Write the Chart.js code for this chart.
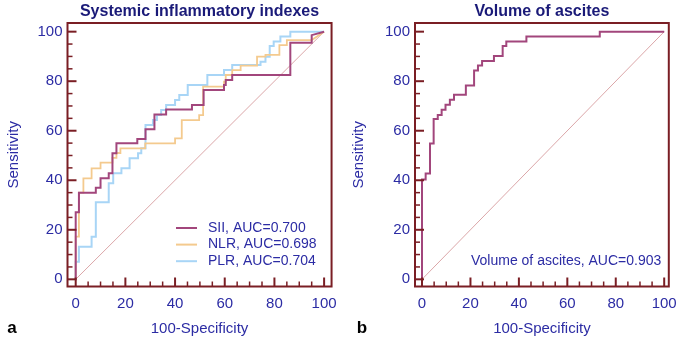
<!DOCTYPE html>
<html>
<head>
<meta charset="utf-8">
<script src="https://cdn.jsdelivr.net/npm/chart.js@4.4.0/dist/chart.umd.min.js"></script>
<style>
  html, body { margin: 0; padding: 0; background: #fff; }
  #wrap { position: relative; width: 685px; height: 338px; }
  canvas { position: absolute; top: 0; }
  #rocA { left: 0; }
  #rocB { left: 345px; }
</style>
</head>
<body>
<div id="wrap">
  <canvas id="rocA" width="345" height="338"></canvas>
  <canvas id="rocB" width="340" height="338"></canvas>
</div>
<script>
// tick labels, both axes, both panels
const axisTicks = [0, 20, 40, 60, 80, 100];

// panel a - SII
const siiX = [0, 0, 1.3, 1.3, 8.1, 8.1, 10, 10, 13.3, 13.3, 14.8, 14.8, 16.4, 16.4, 24.8, 24.8, 28.1, 28.1, 31.7, 31.7, 36.4, 36.4, 46.8, 46.8, 51.5, 51.5, 59.7, 59.7, 60.4, 60.4, 63, 63, 86.4, 86.4, 95, 95, 100];
const siiY = [0, 27.1, 27.1, 35, 35, 37, 37, 40.8, 40.8, 42.8, 42.8, 50.9, 50.9, 54.9, 54.9, 56.7, 56.7, 60.6, 60.6, 66.6, 66.6, 68.6, 68.6, 70.4, 70.4, 76.4, 76.4, 78.5, 78.5, 80.5, 80.5, 82.5, 82.5, 95.5, 95.5, 98.6, 100];

// panel a - NLR
const nlrX = [0, 0, 1.3, 1.3, 3.1, 3.1, 6.4, 6.4, 10, 10, 14.8, 14.8, 16.4, 16.4, 18, 18, 28, 28, 40, 40, 42.7, 42.7, 49.7, 49.7, 51.3, 51.3, 59.7, 59.7, 60.4, 60.4, 63, 63, 66.4, 66.4, 73, 73, 76.4, 76.4, 82, 82, 85, 85, 95, 100];
const nlrY = [0, 17.2, 17.2, 35, 35, 40.8, 40.8, 44.8, 44.8, 47.1, 47.1, 49, 49, 51, 51, 52.9, 52.9, 54.9, 54.9, 56.9, 56.9, 64.3, 64.3, 66.3, 66.3, 77.8, 77.8, 79.8, 79.8, 82.5, 82.5, 84.5, 84.5, 86.3, 86.3, 89.9, 89.9, 90.6, 90.6, 94.6, 94.6, 96.6, 96.6, 100];

// panel a - PLR
const plrX = [0, 0, 1.3, 1.3, 6.4, 6.4, 8.1, 8.1, 13.3, 13.3, 15.1, 15.1, 18.4, 18.4, 21.7, 21.7, 25.1, 25.1, 26.4, 26.4, 28.1, 28.1, 31.1, 31.1, 32.7, 32.7, 34.4, 34.4, 36.4, 36.4, 40, 40, 41.7, 41.7, 45.1, 45.1, 53, 53, 59.7, 59.7, 63, 63, 74.4, 74.4, 76.4, 76.4, 78.1, 78.1, 79.7, 79.7, 82.4, 82.4, 86.4, 86.4, 100];
const plrY = [0, 7.1, 7.1, 13.2, 13.2, 17.2, 17.2, 31.1, 31.1, 38.8, 38.8, 42.8, 42.8, 44.8, 44.8, 48.9, 48.9, 50.9, 50.9, 52.9, 52.9, 62.3, 62.3, 64.3, 64.3, 66.4, 66.4, 68.4, 68.4, 70.4, 70.4, 72.4, 72.4, 74.4, 74.4, 78.5, 78.5, 82.5, 82.5, 84.5, 84.5, 86.5, 86.5, 87.9, 87.9, 89.9, 89.9, 94.2, 94.2, 96, 96, 98, 98, 100, 100];

// panel b - volume of ascites
const ascX = [0, 0, 1.5, 1.5, 3.3, 3.3, 4.8, 4.8, 6.5, 6.5, 8.1, 8.1, 9.7, 9.7, 11.5, 11.5, 13.2, 13.2, 18.1, 18.1, 21.5, 21.5, 23.1, 23.1, 24.8, 24.8, 29.7, 29.7, 33.3, 33.3, 34.8, 34.8, 43.1, 43.1, 73.4, 73.4, 100];
const ascY = [0, 40.3, 40.3, 42.7, 42.7, 54.8, 54.8, 64.7, 64.7, 66.4, 66.4, 68.5, 68.5, 70.5, 70.5, 72.5, 72.5, 74.5, 74.5, 78.3, 78.3, 84.3, 84.3, 86.3, 86.3, 88.2, 88.2, 90.2, 90.2, 94.2, 94.2, 96, 96, 98, 98, 100, 100];

// chance line
const diagX = [0, 100];
const diagY = [0, 100];

const FONT = "'Liberation Sans', Arial, sans-serif";
const FRAME = '#7a1e24';
const BLUE = '#2c2ca4';
const NAVY = '#1a1a78';

const pts = (xs, ys) => xs.map((v, i) => ({ x: v, y: ys[i] }));

// frame + inward tick marks (major every 20, minor every 5)
const framePlugin = {
    id: 'frame',
    afterDatasetsDraw(chart) {
        const { ctx, chartArea: a, scales: { x, y } } = chart;
        ctx.save();
        ctx.strokeStyle = FRAME;
        ctx.lineWidth = 2;
        ctx.strokeRect(a.left, a.top, a.right - a.left, a.bottom - a.top);
        for (let v = 0; v <= 100; v += 5) {
            const major = v % 20 === 0;
            const len = major ? 9 : 5;
            ctx.lineWidth = major ? 2 : 1.5;
            const px = x.getPixelForValue(v);
            ctx.beginPath();
            ctx.moveTo(px, a.bottom);
            ctx.lineTo(px, a.bottom - len);
            ctx.stroke();
            const py = y.getPixelForValue(v);
            ctx.beginPath();
            ctx.moveTo(a.left, py);
            ctx.lineTo(a.left + len, py);
            ctx.stroke();
        }
        ctx.restore();
    }
};

// legend inside the plot + panel letter
const notesPlugin = {
    id: 'notes',
    afterDraw(chart, args, opts) {
        const ctx = chart.ctx;
        ctx.save();
        ctx.font = '14px ' + FONT;
        ctx.textBaseline = 'middle';
        ctx.textAlign = 'left';
        let row = 0;
        chart.data.datasets.forEach(ds => {
            if (!ds.label) return;
            const yy = opts.y + row * opts.gap;
            if (opts.sample) {
                ctx.strokeStyle = ds.borderColor;
                ctx.lineWidth = 2;
                ctx.beginPath();
                ctx.moveTo(opts.x, yy);
                ctx.lineTo(opts.x + 21, yy);
                ctx.stroke();
            }
            ctx.fillStyle = BLUE;
            ctx.fillText(ds.label, opts.x + (opts.sample ? 32 : 0), yy);
            row++;
        });
        ctx.fillStyle = '#000';
        ctx.font = 'bold 17px ' + FONT;
        ctx.textAlign = 'center';
        ctx.fillText(opts.letter, opts.letterX, 328);
        ctx.restore();
    }
};

function rocChart(id, title, datasets, yWidth, padRight, xMin, xMax, legend) {
    return new Chart(document.getElementById(id), {
        type: 'line',
        data: { datasets: datasets },
        options: {
            responsive: false,
            animation: false,
            layout: { padding: { left: 0, right: padRight, top: 0, bottom: 0 } },
            elements: { point: { radius: 0 }, line: { tension: 0 } },
            scales: {
                x: {
                    type: 'linear',
                    min: xMin,
                    max: xMax,
                    afterBuildTicks: s => { s.ticks = axisTicks.map(v => ({ value: v })); },
                    afterFit: s => { s.height = 51.5; },
                    grid: { display: false, drawTicks: false },
                    border: { display: false },
                    ticks: { color: BLUE, font: { family: FONT, size: 15 }, padding: 8, maxRotation: 0 },
                    title: { display: true, text: '100-Specificity', color: BLUE, font: { family: FONT, size: 15 }, padding: { top: 0, bottom: 0 } }
                },
                y: {
                    type: 'linear',
                    min: -2.9,
                    max: 103.5,
                    afterBuildTicks: s => { s.ticks = axisTicks.map(v => ({ value: v })); },
                    afterFit: s => { s.width = yWidth; },
                    grid: { display: false, drawTicks: false },
                    border: { display: false },
                    ticks: { color: BLUE, font: { family: FONT, size: 15 }, padding: 5 },
                    title: { display: true, text: 'Sensitivity', color: BLUE, font: { family: FONT, size: 15 }, padding: { top: 5, bottom: 0 } }
                }
            },
            plugins: {
                legend: { display: false },
                tooltip: { enabled: false },
                title: {
                    display: true,
                    text: title,
                    fullSize: false,
                    color: NAVY,
                    font: { family: FONT, size: 16, weight: 'bold' },
                    padding: { top: 2, bottom: 1.8 }
                },
                notes: legend
            }
        },
        plugins: [framePlugin, notesPlugin]
    });
}

rocChart('rocA', 'Systemic inflammatory indexes', [
    { label: 'SII, AUC=0.700', data: pts(siiX, siiY), borderColor: '#a2467c', borderWidth: 2 },
    { label: 'NLR, AUC=0.698', data: pts(nlrX, nlrY), borderColor: '#f4ca8e', borderWidth: 1.8 },
    { label: 'PLR, AUC=0.704', data: pts(plrX, plrY), borderColor: '#a8d5f6', borderWidth: 2 },
    { label: '', data: pts(diagX, diagY), borderColor: '#dba6a8', borderWidth: 1 }
], 67.5, 11.7, -3.3, 103, { x: 176, y: 228, gap: 16.6, sample: true, letter: 'a', letterX: 12 });

rocChart('rocB', 'Volume of ascites', [
    { label: 'Volume of ascites, AUC=0.903', data: pts(ascX, ascY), borderColor: '#a2467c', borderWidth: 2 },
    { label: '', data: pts(diagX, diagY), borderColor: '#dba6a8', borderWidth: 1 }
], 70, 8, -2.9, 101.9, { x: 126, y: 261, gap: 16.6, sample: false, letter: 'b', letterX: 17 });
</script>
</body>
</html>
